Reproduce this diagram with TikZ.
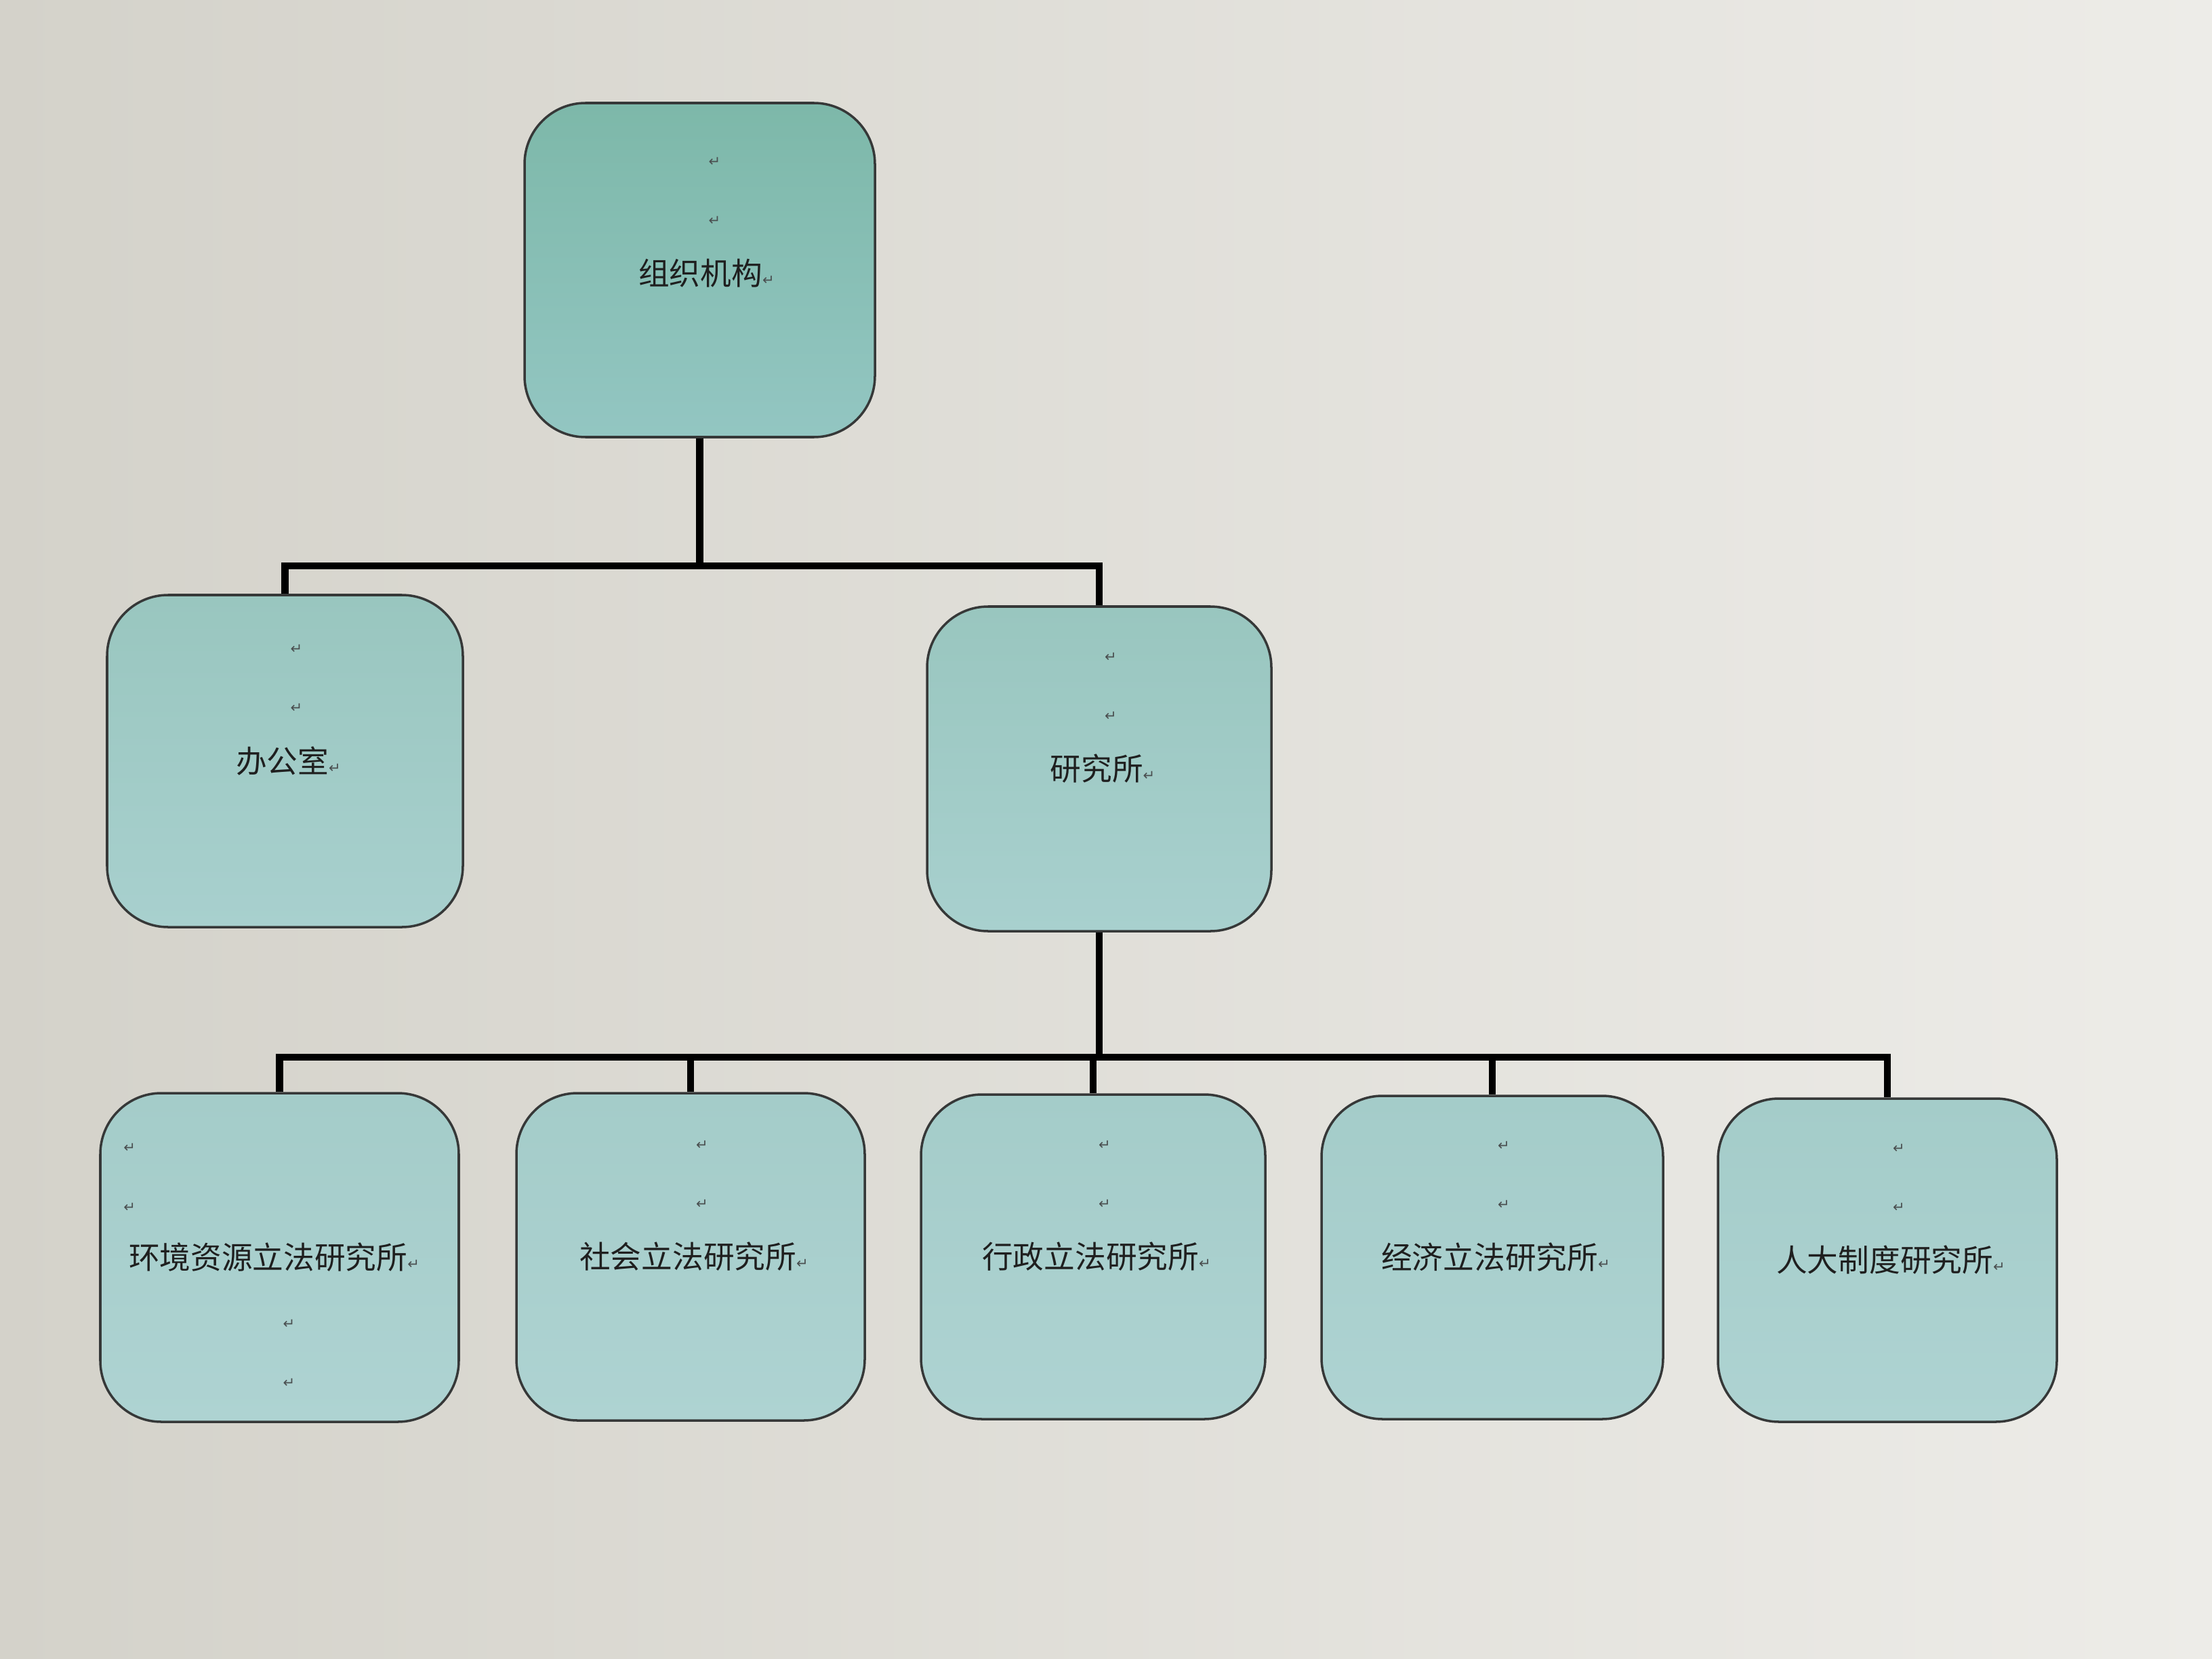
\documentclass[tikz,border=0pt]{standalone}
\usepackage{fontspec}
\newfontfamily\cjk{Noto Sans CJK SC}
\newfontfamily\symf{DejaVu Sans}
\definecolor{bgL}{HTML}{D4D2CA}
\definecolor{bgR}{HTML}{EDECE8}
\definecolor{boxline}{HTML}{363838}
\definecolor{markgray}{HTML}{4A4F50}
\definecolor{topA}{HTML}{7DB8A9}
\definecolor{topB}{HTML}{93C6C2}
\definecolor{midA}{HTML}{99C6BF}
\definecolor{midB}{HTML}{A8D0CE}
\definecolor{lowA}{HTML}{A4CCC9}
\definecolor{lowB}{HTML}{AED3D2}
\newcommand\pmk{{\symf\fontsize{6}{6}\selectfont\color{markgray}↵}}
\begin{document}
\begin{tikzpicture}[
  orgbox/.style={draw=boxline, line width=1pt, rounded corners=0.9cm, inner sep=0pt},
  topfill/.style={top color=topA, bottom color=topB},
  midfill/.style={top color=midA, bottom color=midB},
  lowfill/.style={top color=lowA, bottom color=lowB},
  lbl/.style={font=\cjk\fontsize{13}{15}\selectfont, text=black!88, inner sep=0pt},
  mk/.style={inner sep=0pt},
  conn/.style={draw=black, line width=3pt, line join=miter}
]
\useasboundingbox (0,0) rectangle (32.64,-24.48);
\fill[left color=bgL, right color=bgR] (0,0) rectangle (32.64,-24.48);

% boxes
\node[orgbox, topfill, minimum width=5.17cm, minimum height=4.93cm] (top) at (10.325,-3.985) {};
\node[orgbox, midfill, minimum width=5.25cm, minimum height=4.90cm] (office) at (4.205,-11.23) {};
\node[orgbox, midfill, minimum width=5.08cm, minimum height=4.79cm] (res) at (16.22,-11.345) {};
\node[orgbox, lowfill, minimum width=5.29cm, minimum height=4.85cm] (b1) at (4.125,-18.555) {};
\node[orgbox, lowfill, minimum width=5.14cm, minimum height=4.83cm] (b2) at (10.19,-18.545) {};
\node[orgbox, lowfill, minimum width=5.08cm, minimum height=4.79cm] (b3) at (16.13,-18.545) {};
\node[orgbox, lowfill, minimum width=5.04cm, minimum height=4.77cm] (b4) at (22.02,-18.555) {};
\node[orgbox, lowfill, minimum width=5.00cm, minimum height=4.77cm] (b5) at (27.85,-18.595) {};

% texts
\node[lbl] (toptxt) at ([shift={(0.1,-0.05)}]top.center) {组织机构\pmk};
\node[lbl] (officetxt) at ([shift={(0.05,0)}]office.center) {办公室\pmk};
\node[lbl] (restxt) at ([shift={(0.05,0)}]res.center) {研究所\pmk};
\node[lbl] (b1txt) at ([shift={(-0.08,0)}]b1.center) {环境资源立法研究所\pmk};
\node[lbl] (b2txt) at ([shift={(0.05,0)}]b2.center) {社会立法研究所\pmk};
\node[lbl] (b3txt) at ([shift={(0.05,0)}]b3.center) {行政立法研究所\pmk};
\node[lbl] (b4txt) at ([shift={(0.05,0)}]b4.center) {经济立法研究所\pmk};
\node[lbl] (b5txt) at ([shift={(0.05,0)}]b5.center) {人大制度研究所\pmk};

% paragraph marks
\node[mk] (topm1) at ([shift={(0.12,1.65)}]toptxt.center) {\pmk};
\node[mk] (topm2) at ([shift={(0.12,0.78)}]toptxt.center) {\pmk};
\node[mk] (officem1) at ([shift={(0.12,1.65)}]officetxt.center) {\pmk};
\node[mk] (officem2) at ([shift={(0.12,0.78)}]officetxt.center) {\pmk};
\node[mk] (resm1) at ([shift={(0.12,1.65)}]restxt.center) {\pmk};
\node[mk] (resm2) at ([shift={(0.12,0.78)}]restxt.center) {\pmk};
\node[mk] (b1m1) at ([shift={(0.45,1.62)}]b1.west) {\pmk};
\node[mk] (b1m2) at ([shift={(0.45,0.74)}]b1.west) {\pmk};
\node[mk] (b1m3) at ([shift={(0.14,-0.98)}]b1.center) {\pmk};
\node[mk] (b1m4) at ([shift={(0.14,-1.85)}]b1.center) {\pmk};
\node[mk] (b2m1) at ([shift={(0.12,1.65)}]b2txt.center) {\pmk};
\node[mk] (b2m2) at ([shift={(0.12,0.78)}]b2txt.center) {\pmk};
\node[mk] (b3m1) at ([shift={(0.12,1.65)}]b3txt.center) {\pmk};
\node[mk] (b3m2) at ([shift={(0.12,0.78)}]b3txt.center) {\pmk};
\node[mk] (b4m1) at ([shift={(0.12,1.65)}]b4txt.center) {\pmk};
\node[mk] (b4m2) at ([shift={(0.12,0.78)}]b4txt.center) {\pmk};
\node[mk] (b5m1) at ([shift={(0.12,1.65)}]b5txt.center) {\pmk};
\node[mk] (b5m2) at ([shift={(0.12,0.78)}]b5txt.center) {\pmk};

% bus levels
\coordinate (busA) at (0,-8.35);
\coordinate (busB) at (0,-15.60);

% connectors
\draw[conn] (top.south) -- (top.south |- busA) -| (office.north);
\draw[conn] (top.south) -- (top.south |- busA) -| (res.north);
\draw[conn] (res.south) -- (res.south |- busB) -| (b1.north);
\draw[conn] (res.south) -- (res.south |- busB) -| (b2.north);
\draw[conn] (res.south) -- (res.south |- busB) -| (b3.north);
\draw[conn] (res.south) -- (res.south |- busB) -| (b4.north);
\draw[conn] (res.south) -- (res.south |- busB) -| (b5.north);
\end{tikzpicture}
\end{document}
